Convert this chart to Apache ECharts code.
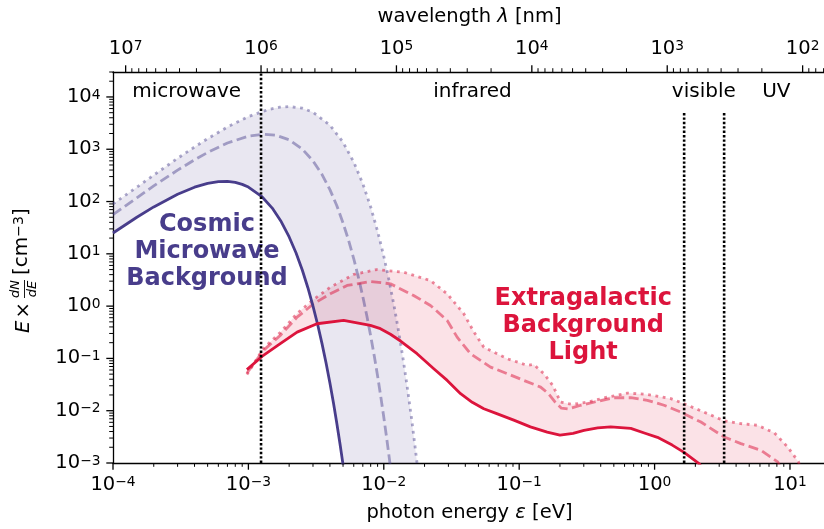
<!DOCTYPE html>
<html>
<head>
<meta charset="utf-8">
<script src="https://cdn.jsdelivr.net/npm/echarts@6/dist/echarts.min.js"></script>
<style>
html,body{margin:0;padding:0;background:#fff;}
#chart{width:824px;height:529px;}
</style>
</head>
<body>
<div id="chart"></div>
<script>
// ---------------- data ----------------
// Cosmic Microwave Background, today (solid)
const cmbSolidE = [1e-4,1.5e-4,2e-4,3e-4,4e-4,5e-4,6e-4,7e-4,8e-4,9e-4,1e-3,1.25e-3,1.5e-3,1.75e-3,2e-3,2.25e-3,2.5e-3,2.75e-3,3e-3,3.25e-3,3.5e-3,3.75e-3,4e-3,4.25e-3,4.5e-3,4.75e-3,5e-3,5.25e-3];
const cmbSolid  = [25,50,79,138,188,222,240,242,232,213,189,126,75,41,21,10.4,4.9,2.25,1.0,0.44,0.19,0.081,0.034,0.014,0.0057,0.0023,0.00093,0.00037];
// CMB, dashed
const cmbDashE = [1e-4,1.5e-4,2e-4,3e-4,4e-4,5e-4,7e-4,1e-3,1.3e-3,1.6e-3,2e-3,2.5e-3,3e-3,3.5e-3,4e-3,4.5e-3,5e-3,5.5e-3,6e-3,6.5e-3,7e-3,7.5e-3,8e-3,8.5e-3,9e-3,9.5e-3,1e-2,1.05e-2,1.1e-2,1.15e-2];
const cmbDash  = [56,118,199,398,628,867,1315,1779,1940,1851,1513,1009,599,328,169,83,39,18,8.05,3.5,1.52,0.645,0.27,0.112,0.046,0.0186,0.0075,0.003,0.0012,0.00046];
// CMB, dotted
const cmbDotE = [1e-4,1.5e-4,2e-4,3e-4,4e-4,5e-4,7e-4,1e-3,1.4e-3,1.7e-3,2e-3,2.5e-3,3e-3,4e-3,5e-3,6e-3,7e-3,8e-3,9e-3,1e-2,1.1e-2,1.2e-2,1.3e-2,1.4e-2,1.5e-2,1.6e-2,1.7e-2,1.8e-2];
const cmbDot  = [90,188,321,671,1104,1594,2659,4205,5746,6369,6553,6100,5108,2895,1364,569,219,79,27,9.0,2.9,0.91,0.28,0.085,0.025,0.0074,0.0021,0.00061];
// Extragalactic Background Light (solid)
const eblSolidE = [9.75e-4,1.26e-3,1.72e-3,2.29e-3,3.21e-3,5.05e-3,7.96e-3,9.44e-3,1.12e-2,1.33e-2,1.76e-2,2.34e-2,2.94e-2,3.69e-2,4.5e-2,5.48e-2,6.83e-2,9.12e-2,0.121,0.161,0.2,0.25,0.301,0.38,0.474,0.667,0.85,1.05,1.35,1.65,2.13,2.6];
const eblSolid  = [0.061,0.109,0.191,0.318,0.46,0.532,0.427,0.37,0.29,0.215,0.123,0.0636,0.038,0.0212,0.0145,0.0109,0.0088,0.0066,0.0049,0.0039,0.0034,0.0037,0.0042,0.0047,0.0049,0.0046,0.0037,0.0031,0.0022,0.0016,0.00097,0.0005];
// EBL dashed
const eblDashE = [9.75e-4,1.29e-3,1.72e-3,2.29e-3,3.03e-3,4.03e-3,5.36e-3,7.96e-3,1.12e-2,1.66e-2,2.21e-2,2.94e-2,3.48e-2,4.37e-2,6.14e-2,8.16e-2,0.108,0.144,0.165,0.185,0.205,0.23,0.285,0.378,0.502,0.667,0.885,1.175,1.56,2.2,3.27,4.34,6.1,8.11,9.0];
const eblDash  = [0.052,0.142,0.275,0.615,1.11,1.72,2.48,2.96,2.67,1.6,1.03,0.532,0.255,0.123,0.0683,0.0511,0.038,0.0283,0.021,0.0145,0.0112,0.0108,0.0127,0.0151,0.0177,0.0177,0.0158,0.0127,0.0094,0.00607,0.00314,0.00235,0.00175,0.00105,0.0006];
// EBL dotted
const eblDotE = [9.75e-4,1.29e-3,1.72e-3,2.29e-3,3.03e-3,4.03e-3,5.99e-3,8.91e-3,1.4e-2,2.21e-2,2.94e-2,3.9e-2,4.6e-2,5.48e-2,8.16e-2,0.115,0.128,0.152,0.177,0.202,0.248,0.319,0.449,0.631,0.885,1.32,1.65,2.46,3.27,4.34,5.77,7.66,9.62,11.56,12.5];
const eblDot  = [0.049,0.155,0.314,0.725,1.34,2.3,4.03,5.01,4.45,3.09,1.72,0.715,0.33,0.164,0.0986,0.0735,0.0767,0.0511,0.0305,0.0146,0.0132,0.0146,0.0182,0.0217,0.0205,0.017,0.0136,0.0088,0.0064,0.00566,0.00525,0.00378,0.00202,0.00105,0.0005];

// band boundaries (1 mm, 750 nm, 380 nm) and their heights
const bandEdgeE   = [1.2398e-3, 1.653, 3.263];
const bandEdgeTop = [3e4, 5350, 5350];

// region labels
const regionLabels = ['microwave', 'infrared', 'visible', 'UV'];
const regionLabelE = [3.5e-4, 0.0452, 2.31, 7.93];
const regionLabelY = 1.24e4;
const sourceLabels = ['Cosmic\nMicrowave\nBackground', 'Extragalactic\nBackground\nLight'];
const sourceLabelE = [4.94e-4, 0.297];
const sourceLabelY = [10.8, 0.426];

// tick label exponents
const xTickExp   = [-4, -3, -2, -1, 0, 1];
const yTickExp   = [-3, -2, -1, 0, 1, 2, 3, 4];
const lamTickExp = [2, 3, 4, 5, 6, 7];

// axis ranges
const xMin = 1e-4, xMax = 18.45, yMin = 1e-3, yMax = 3e4;
const HC = 1239.84; // eV nm
const lamMin = HC / xMax, lamMax = HC / xMin;

// ---------------- styling ----------------
const FONT = 'DejaVu Sans';
const PURPLE = '#483D8B';
const CRIMSON = '#DC143C';
const PURPLE_LIGHT = 'rgba(72,61,139,0.45)';
const PURPLE_FILL = 'rgba(72,61,139,0.12)';
const CRIMSON_LIGHT = 'rgba(220,20,60,0.5)';
const CRIMSON_FILL = 'rgba(220,20,60,0.12)';
const LW = 2.8;

const pair = (xs, ys) => xs.map((x, i) => [x, ys[i]]);

function supText(exp) {
  const s = exp < 0 ? '\u2212' + (-exp) : String(exp);
  return '{b|10}{s|' + s + '}';
}
const RICH = {
  b: {fontFamily: FONT, fontSize: 19.5, lineHeight: 19, verticalAlign: 'bottom', fill: '#000', color: '#000'},
  s: {fontFamily: FONT, fontSize: 13.8, lineHeight: 14, verticalAlign: 'top', padding: [0, 0, 8, 0], fill: '#000', color: '#000'}
};

// tick lists: majors from exponent arrays, minors 2..9 between
function tickList(exps, lo, hi) {
  const out = [];
  const e0 = exps[0] - 1, e1 = exps[exps.length - 1] + 1;
  for (let e = e0; e <= e1; e++) {
    for (let k = 1; k <= 9; k++) {
      const v = k * Math.pow(10, e);
      if (v < lo * 0.9999 || v > hi * 1.0001) continue;
      if (k === 1 && exps.indexOf(e) < 0) continue;
      out.push([v, k === 1 ? 1 : 0, e]);
    }
  }
  return out;
}

function lineSeries(xs, ys, color, type, z) {
  return {
    type: 'line', xAxisIndex: 0, yAxisIndex: 0, data: pair(xs, ys),
    showSymbol: false, symbol: 'none', clip: true, silent: true, z: z || 3,
    lineStyle: {color: color, width: LW, type: type || 'solid', cap: 'butt', join: 'round'}
  };
}

function fillSeries(topX, topY, botX, botY, color) {
  const pts = pair(topX, topY).concat(pair(botX, botY).reverse());
  return {
    type: 'custom', xAxisIndex: 0, yAxisIndex: 0, clip: true, silent: true, z: 1,
    data: [[1e-3, 1]],
    renderItem: function (params, api) {
      return {type: 'polygon', shape: {points: pts.map(p => api.coord(p))}, style: {fill: color}};
    }
  };
}

function tickSeries(side) {
  let data, xAxisIndex = 0;
  if (side === 'bottom') data = tickList(xTickExp, xMin, xMax).map(t => [t[0], 1, t[1], t[2]]);
  if (side === 'left') data = tickList(yTickExp, yMin, yMax).map(t => [1e-2, t[0], t[1], t[2]]);
  if (side === 'top') { data = tickList(lamTickExp, lamMin, lamMax).map(t => [t[0], 1, t[1], t[2]]); xAxisIndex = 1; }
  return {
    type: 'custom', xAxisIndex: xAxisIndex, yAxisIndex: 0, silent: true, z: 10, data: data,
    renderItem: function (params, api) {
      const cs = params.coordSys;
      const p = api.coord([api.value(0), api.value(1)]);
      const major = api.value(2) === 1;
      const len = major ? 6.7 : 3.8;
      const lw = major ? 1.3 : 1;
      const children = [];
      if (side === 'left') {
        const y = p[1];
        if (y < cs.y - 0.5 || y > cs.y + cs.height + 0.5) return null;
        children.push({type: 'line', shape: {x1: cs.x, y1: y, x2: cs.x - len, y2: y}, style: {stroke: '#000', lineWidth: lw}});
        if (major) children.push({type: 'text', x: cs.x - 12.5, y: y + 0.5,
          style: {text: supText(api.value(3)), rich: RICH, align: 'right', verticalAlign: 'middle'}});
      } else {
        const x = p[0];
        if (x < cs.x - 0.5 || x > cs.x + cs.width + 0.5) return null;
        if (side === 'bottom') {
          const y0 = cs.y + cs.height;
          children.push({type: 'line', shape: {x1: x, y1: y0, x2: x, y2: y0 + len}, style: {stroke: '#000', lineWidth: lw}});
          if (major) children.push({type: 'text', x: x, y: y0 + 12.5,
            style: {text: supText(api.value(3)), rich: RICH, align: 'center', verticalAlign: 'top'}});
        } else {
          const y0 = cs.y;
          children.push({type: 'line', shape: {x1: x, y1: y0, x2: x, y2: y0 - len}, style: {stroke: '#000', lineWidth: lw}});
          if (major) children.push({type: 'text', x: x, y: y0 - 13.5,
            style: {text: supText(api.value(3)), rich: RICH, align: 'center', verticalAlign: 'bottom'}});
        }
      }
      return {type: 'group', children: children};
    }
  };
}

const regionSeries = {
  type: 'custom', xAxisIndex: 0, yAxisIndex: 0, silent: true, z: 4,
  data: regionLabels.map((t, i) => [regionLabelE[i], regionLabelY, i]),
  renderItem: function (params, api) {
    const p = api.coord([api.value(0), api.value(1)]);
    return {type: 'text', x: p[0], y: p[1], style: {text: regionLabels[api.value(2)],
      fontFamily: FONT, fontSize: 20, fill: '#000', align: 'center', verticalAlign: 'middle'}};
  }
};
const sourceSeries = {
  type: 'custom', xAxisIndex: 0, yAxisIndex: 0, silent: true, z: 4,
  data: sourceLabels.map((t, i) => [sourceLabelE[i], sourceLabelY[i], i]),
  renderItem: function (params, api) {
    const p = api.coord([api.value(0), api.value(1)]);
    const i = api.value(2);
    return {type: 'text', x: p[0], y: p[1], style: {text: sourceLabels[i],
      fontFamily: FONT, fontSize: 24, fontWeight: 'bold', lineHeight: 27,
      fill: i === 0 ? PURPLE : CRIMSON, align: 'center', verticalAlign: 'middle'}};
  }
};

const bandSeries = bandEdgeE.map((e, i) => ({
  type: 'line', xAxisIndex: 0, yAxisIndex: 0, data: [[e, yMin], [e, bandEdgeTop[i]]],
  showSymbol: false, symbol: 'none', clip: true, silent: true, z: 6,
  lineStyle: {color: '#000', width: 2.6, type: [2.4, 2.0], cap: 'butt'}
}));

const axisCommon = {
  type: 'log', logBase: 10,
  axisLine: {show: true, onZero: false, lineStyle: {color: '#000', width: 1.3}},
  axisTick: {show: false}, axisLabel: {show: false},
  splitLine: {show: false}, minorTick: {show: false}, minorSplitLine: {show: false}
};

const option = {
  animation: false,
  backgroundColor: '#ffffff',
  grid: {left: 113, right: -2, top: 72, bottom: 66, containLabel: false, outerBoundsMode: 'none'},
  xAxis: [
    Object.assign({}, axisCommon, {min: xMin, max: xMax, position: 'bottom'}),
    Object.assign({}, axisCommon, {min: lamMin, max: lamMax, inverse: true, position: 'top'})
  ],
  yAxis: [Object.assign({}, axisCommon, {min: yMin, max: yMax, position: 'left'})],
  series: [
    fillSeries(cmbDotE, cmbDot, cmbSolidE, cmbSolid, PURPLE_FILL),
    fillSeries(eblDotE, eblDot, eblSolidE, eblSolid, CRIMSON_FILL),
    lineSeries(cmbDotE, cmbDot, PURPLE_LIGHT, [2.8, 4.6], 2),
    lineSeries(cmbDashE, cmbDash, PURPLE_LIGHT, [10, 4.5], 2),
    lineSeries(eblDotE, eblDot, CRIMSON_LIGHT, [2.8, 4.6], 2),
    lineSeries(eblDashE, eblDash, CRIMSON_LIGHT, [10, 4.5], 2),
    lineSeries(cmbSolidE, cmbSolid, PURPLE, 'solid', 3),
    lineSeries(eblSolidE, eblSolid, CRIMSON, 'solid', 3),
    regionSeries,
    sourceSeries
  ].concat(bandSeries).concat([tickSeries('bottom'), tickSeries('left'), tickSeries('top')]),
  graphic: [
    {type: 'text', x: 469.5, y: 513, z: 10, style: {
      text: 'photon energy {i|ε} [eV]', fontFamily: FONT, fontSize: 19.5, fill: '#000',
      align: 'center', verticalAlign: 'middle',
      rich: {i: {fontFamily: FONT, fontSize: 19.5, fontStyle: 'italic', fill: '#000', color: '#000'}}}},
    {type: 'text', x: 469.5, y: 17, z: 10, style: {
      text: 'wavelength {i|λ} [nm]', fontFamily: FONT, fontSize: 19.5, fill: '#000',
      align: 'center', verticalAlign: 'middle',
      rich: {i: {fontFamily: FONT, fontSize: 19.5, fontStyle: 'italic', fill: '#000', color: '#000'}}}},
    {type: 'group', x: 24, y: 333, rotation: Math.PI / 2, z: 10, children: [
      {type: 'text', x: 0, y: 0, style: {text: 'E', fontFamily: FONT, fontSize: 19.5, fontStyle: 'italic', fill: '#000', align: 'left', verticalAlign: 'middle'}},
      {type: 'text', x: 14.5, y: 0, style: {text: '×', fontFamily: FONT, fontSize: 19.5, fill: '#000', align: 'left', verticalAlign: 'middle'}},
      {type: 'text', x: 44, y: -1.5, style: {text: 'dN', fontFamily: FONT, fontSize: 13, fontStyle: 'italic', fill: '#000', align: 'center', verticalAlign: 'bottom'}},
      {type: 'line', shape: {x1: 35, y1: 0.5, x2: 53, y2: 0.5}, style: {stroke: '#000', lineWidth: 0.9}},
      {type: 'text', x: 44, y: 2, style: {text: 'dE', fontFamily: FONT, fontSize: 13, fontStyle: 'italic', fill: '#000', align: 'center', verticalAlign: 'top'}},
      {type: 'text', x: 58, y: -2, style: {text: '{a|[cm}{s|\u22123}{a|]}', align: 'left', verticalAlign: 'middle',
        rich: {
          a: {fontFamily: FONT, fontSize: 20, lineHeight: 20, verticalAlign: 'bottom', fill: '#000', color: '#000'},
          s: {fontFamily: FONT, fontSize: 14, lineHeight: 14, verticalAlign: 'top', padding: [0, 0, 11, 0], fill: '#000', color: '#000'}
        }}}
    ]}
  ]
};

const chart = echarts.init(document.getElementById('chart'), null, {renderer: 'canvas'});
chart.setOption(option);
</script>
</body>
</html>
